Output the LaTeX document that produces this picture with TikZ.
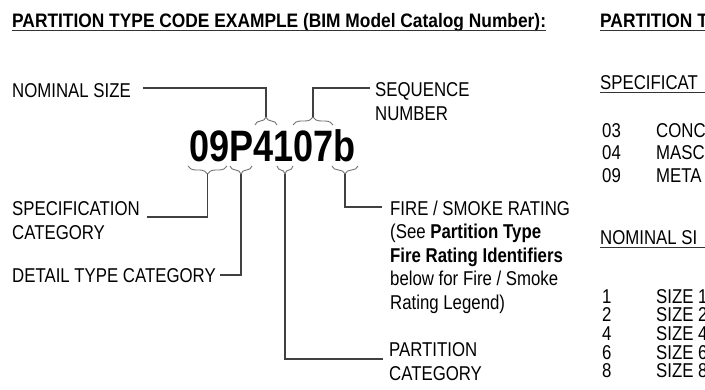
\documentclass[tikz,border=0pt]{standalone}
\usepackage{fontspec}
\setmainfont{Liberation Sans}[FakeStretch=0.84]
\newfontfamily\codefont{Liberation Sans}[FakeStretch=0.82]
\newfontfamily\headfont{Liberation Sans}[FakeStretch=0.89]
\usetikzlibrary{decorations.pathreplacing}

\tikzset{
  lbl/.style={inner sep=0pt, anchor=base west, align=left,
    font=\fontsize{20}{23.5}\selectfont},
  headtxt/.style={inner sep=0pt, anchor=base west,
    font=\headfont\fontsize{19.5}{24}\selectfont\bfseries},
  codetxt/.style={inner sep=0pt, anchor=base west,
    font=\codefont\fontsize{44}{48}\selectfont\bfseries},
  leader/.style={draw=black!75, line width=1.1pt},
  brak/.style={draw=black!55, line width=0.9pt, decorate,
    decoration={brace, amplitude=8pt}},
  uline/.style={draw=black!80, line width=1.4pt}
}

\begin{document}
\begin{tikzpicture}[x=1pt, y=-1pt]
  \clip (0,0) rectangle (705,389);
  \fill[white] (0,0) rectangle (705,389);

  % headings
  \node[headtxt] (title) at (12,27) {PARTITION TYPE CODE EXAMPLE (BIM Model Catalog Number):};
  \draw[uline] ([yshift=-3.5pt]title.base west) -- ([yshift=-3.5pt]title.base east);
  \node[headtxt] (ptitle) at (600,27) {PARTITION T};
  \coordinate (edgeA) at (705,30.5);
  \draw[uline] ([yshift=-3.5pt]ptitle.base west) -- (edgeA);

  % the code
  \node[codetxt] (code) at (189,161) {09P4107b};

  % brackets
  \coordinate (b09a) at (188,166); \coordinate (b09b) at (227,166);
  \coordinate (bPa) at (230,166);  \coordinate (bPb) at (252,166);
  \coordinate (b1a) at (277,166);  \coordinate (b1b) at (293,166);
  \coordinate (bba) at (332,166);  \coordinate (bbb) at (358,166);
  \coordinate (b4a) at (255,125);  \coordinate (b4b) at (277,125);
  \coordinate (b07a) at (293,125); \coordinate (b07b) at (333,125);
  \draw[brak] (b09b) -- (b09a);
  \draw[brak] (bPb) -- (bPa);
  \draw[brak] (b1b) -- (b1a);
  \draw[brak] (bbb) -- (bba);
  \draw[brak] (b4a) -- (b4b);
  \draw[brak] (b07a) -- (b07b);
  \coordinate (specTip) at (207.5,174);
  \coordinate (detTip) at (241,174);
  \coordinate (partTip) at (285,174);
  \coordinate (fireTip) at (345,174);
  \coordinate (nomTip) at (266,117);
  \coordinate (seqTip) at (313,117);

  % labels (multi-line nodes sit on their last line)
  \node[lbl] (nominal) at (12,97) {NOMINAL SIZE};
  \node[lbl] (sequence) at (375,120) {SEQUENCE\\NUMBER};
  \node[lbl] (spec) at (12,239) {SPECIFICATION\\CATEGORY};
  \node[lbl] (detail) at (12,282) {DETAIL TYPE CATEGORY};
  \node[lbl] (fire) at (390,309) {FIRE / SMOKE RATING\\(See \textbf{Partition Type}\\
    \textbf{Fire Rating Identifiers}\\below for Fire / Smoke\\Rating Legend)};
  \node[lbl] (partcat) at (389,380) {PARTITION\\CATEGORY};

  % leaders
  \draw[leader] ([xshift=12pt,yshift=9pt]nominal.base east) -| (nomTip);
  \draw[leader] (seqTip) |- ([xshift=-5pt,yshift=32pt]sequence.base west);
  \draw[leader] (specTip) |- ([xshift=7pt,yshift=22pt]spec.base east);
  \draw[leader] (detTip) |- ([xshift=4pt,yshift=7pt]detail.base east);
  \draw[leader] (fireTip) |- ([xshift=-8pt,yshift=102pt]fire.base west);
  \draw[leader] (partTip) |- ([xshift=-6pt,yshift=21pt]partcat.base west);

  % legend column
  \node[lbl] (spechead) at (600,89) {SPECIFICAT};
  \coordinate (edgeB) at (705,92.5);
  \draw[uline, line width=1pt] ([yshift=-3.5pt]spechead.base west) -- (edgeB);
  \foreach \num/\txt [count=\i] in {03/CONC,04/MASC,09/META} {
    \node[lbl] (sc\i) at (602,{137+22.5*(\i-1)}) {\num};
    \node[lbl] (st\i) at (656,{137+22.5*(\i-1)}) {\txt};
  }
  \node[lbl] (nomhead) at (600,244) {NOMINAL SI};
  \coordinate (edgeC) at (705,247.5);
  \draw[uline, line width=1pt] ([yshift=-3.5pt]nomhead.base west) -- (edgeC);
  \foreach \num [count=\i] in {1,2,4,6,8} {
    \node[lbl] (nc\i) at (602,{303+18.7*(\i-1)}) {\num};
    \node[lbl] (nt\i) at (656,{303+18.7*(\i-1)}) {SIZE \num};
  }
\end{tikzpicture}
\end{document}
